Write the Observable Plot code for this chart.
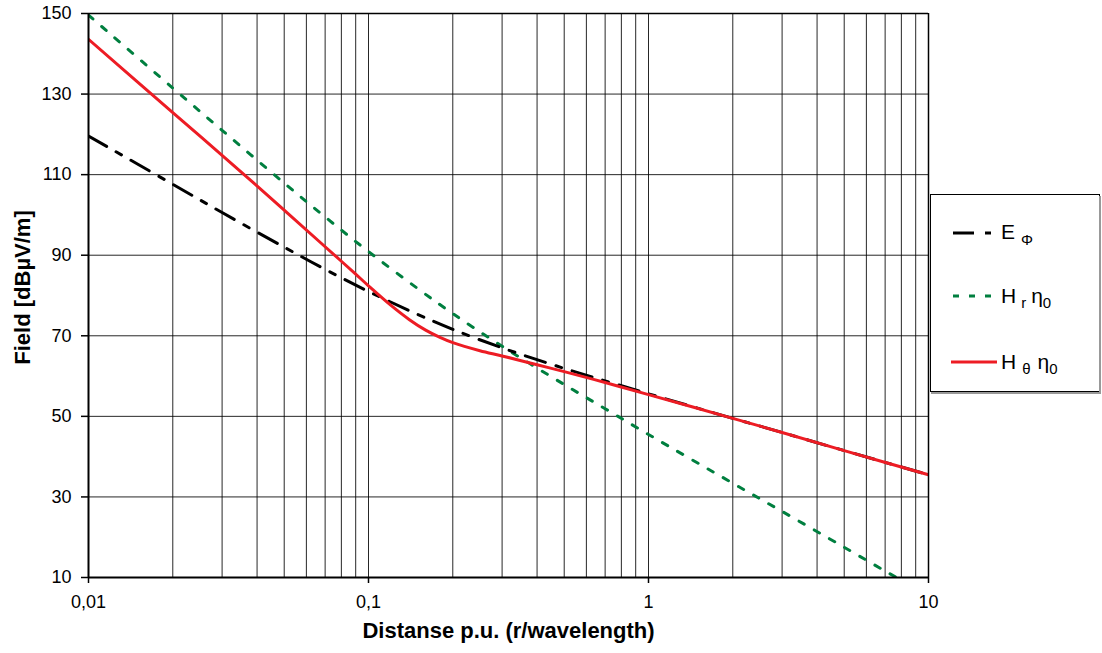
<!DOCTYPE html>
<html>
<head>
<meta charset="utf-8">
<script src="https://cdn.jsdelivr.net/npm/d3@7"></script>
<script src="https://cdn.jsdelivr.net/npm/@observablehq/plot@0.6"></script>
<style>
  html, body { margin: 0; padding: 0; background: #fff; }
  #wrap { position: relative; width: 1102px; height: 653px; }
  #legend { position: absolute; left: 930px; top: 194px; }
  #legend text { font-family: "Liberation Sans", Arial, sans-serif; fill: #000; }
</style>
</head>
<body>
<div id="wrap">
  <div id="chart"></div>
  <svg id="legend" width="172" height="202">
    <rect x="0.5" y="0.5" width="169" height="197" fill="#fff" stroke="#000" stroke-width="1"/>
    <line x1="1" y1="199" x2="171" y2="199" stroke="#999" stroke-width="2"/>
    <line x1="170" y1="2" x2="170" y2="199" stroke="#999" stroke-width="2"/>
    <!-- E_phi -->
    <line x1="23" y1="39" x2="61" y2="39" stroke="#000" stroke-width="3" stroke-dasharray="21,11,6,11"/>
    <text x="71" y="45" font-size="21">E<tspan dx="6" dy="6" font-size="15">Φ</tspan></text>
    <!-- H_r eta_0 -->
    <line x1="23" y1="102" x2="63" y2="102" stroke="#007f3f" stroke-width="3" stroke-dasharray="6,10"/>
    <text x="71" y="109" font-size="21">H<tspan dx="5" dy="5" font-size="15">r</tspan><tspan dx="5" dy="-5" font-size="21">η</tspan><tspan dy="5" font-size="15">0</tspan></text>
    <!-- H_theta eta_0 -->
    <line x1="21" y1="168" x2="67" y2="168" stroke="#ed1c24" stroke-width="3"/>
    <text x="71" y="175" font-size="21">H<tspan dx="6" dy="5" font-size="15">θ</tspan><tspan dx="7" dy="-5" font-size="21">η</tspan><tspan dy="5" font-size="15">0</tspan></text>
  </svg>
</div>
<script>
// Field strength versus distance (in wavelengths), dBµV/m
const distE = [0.01, 0.02, 0.03, 0.05, 0.07, 0.1, 0.15, 0.2, 0.3, 0.5, 0.7, 1, 2, 3, 5, 10];
const ePhi = [119.6, 107.6, 100.6, 92.0, 86.5, 81.0, 75.3, 71.6, 67.0, 61.9, 58.8, 55.6, 49.5, 46.0, 41.5, 35.5];

const distHr = [0.01, 0.02, 0.03, 0.05, 0.07, 0.1, 0.15, 0.2, 0.3, 0.5, 0.7, 1, 2, 3, 5, 7, 7.7];
const hrEta = [149.6, 131.5, 121.0, 107.9, 99.5, 90.9, 81.7, 75.5, 67.4, 57.9, 51.9, 45.5, 33.4, 26.4, 17.5, 11.6, 10.0];

const distHt = [0.01, 0.02, 0.03, 0.05, 0.07, 0.08, 0.09, 0.1, 0.12, 0.14, 0.16, 0.18, 0.2, 0.25, 0.3, 0.4, 0.5, 0.7, 1, 2, 3, 5, 10];
const htEta = [143.6, 125.4, 114.8, 101.2, 92.1, 88.5, 85.3, 82.4, 77.6, 74.0, 71.4, 69.6, 68.3, 66.3, 65.0, 62.8, 61.1, 58.4, 55.4, 49.5, 46.0, 41.5, 35.5];

const xTicks = [0.01, 0.1, 1, 10];
const yTicks = [10, 30, 50, 70, 90, 110, 130, 150];

const toRows = (xs, ys) => xs.map((x, i) => ({x, y: ys[i]}));
const rowsE = toRows(distE, ePhi);
const rowsHr = toRows(distHr, hrEta);
const rowsHt = toRows(distHt, htEta);

// vertical grid at every 1..9 multiple of each decade
const xGrid = [];
for (const d of [0.01, 0.1, 1]) for (let k = 1; k <= 9; k++) xGrid.push(+(d * k).toPrecision(3));
xGrid.push(10);

const comma = d => String(d).replace(".", ",");

const chart = Plot.plot({
  width: 1102,
  height: 653,
  marginLeft: 88,
  marginRight: 174,
  marginTop: 13,
  marginBottom: 76,
  style: {fontFamily: "'Liberation Sans', Arial, sans-serif", fontSize: "18px", color: "#000", background: "#fff"},
  x: {type: "log", domain: [0.01, 10]},
  y: {domain: [10, 150]},
  marks: [
    Plot.ruleX(xGrid, {stroke: "#000", strokeWidth: 1, strokeOpacity: 0.85}),
    Plot.ruleY(yTicks, {stroke: "#000", strokeWidth: 1, strokeOpacity: 0.85}),
    Plot.line(rowsHr, {x: "x", y: "y", stroke: "#007f3f", strokeWidth: 3, strokeDasharray: "6,11.5", curve: "catmull-rom", clip: true}),
    Plot.line(rowsE, {x: "x", y: "y", stroke: "#000", strokeWidth: 3, strokeDasharray: "21,11,6,11", curve: "catmull-rom", clip: true}),
    Plot.line(rowsHt, {x: "x", y: "y", stroke: "#ed1c24", strokeWidth: 3, curve: "catmull-rom", clip: true}),
    Plot.ruleX([10], {stroke: "#000", strokeWidth: 1.5}),
    Plot.ruleY([150], {stroke: "#000", strokeWidth: 1.5}),
    Plot.ruleX([0.01], {stroke: "#000", strokeWidth: 2}),
    Plot.ruleY([10], {stroke: "#000", strokeWidth: 2}),
    Plot.axisY(yTicks, {tickSize: 7, tickPadding: 10, label: null, strokeWidth: 1.5}),
    Plot.axisX(xTicks, {tickSize: 6, tickPadding: 12, tickFormat: comma, label: null, strokeWidth: 1.5}),
    Plot.text(["Distanse p.u. (r/wavelength)"], {text: d => d, frameAnchor: "bottom", dy: 60, fontWeight: "bold", fontSize: 22}),
    Plot.text(["Field [dBµV/m]"], {text: d => d, frameAnchor: "left", textAnchor: "middle", dx: -66, dy: -8, rotate: -90, fontWeight: "bold", fontSize: 22})
  ]
});
document.getElementById("chart").append(chart);
</script>
</body>
</html>
